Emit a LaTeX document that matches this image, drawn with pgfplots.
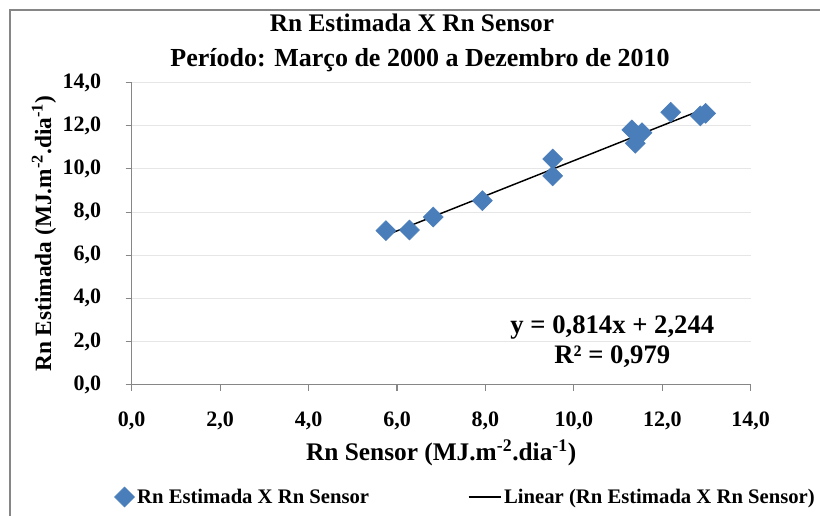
\documentclass[border=0pt]{standalone}
\usepackage{fontspec}
\setmainfont{Liberation Serif}
\usepackage{pgfplots}
\pgfplotsset{compat=1.18}
\definecolor{ptblue}{HTML}{4A7EBB}
\definecolor{axgray}{HTML}{868686}
\definecolor{gridgray}{HTML}{E6E6E6}
\begin{document}
\begin{tikzpicture}[x=1pt,y=1pt]
\useasboundingbox (0,0) rectangle (615,387);
\begin{scope}
\clip (0,0) rectangle (615,387);
\fill[white] (0,0) rectangle (615,387);
\draw[axgray, line width=1.5pt] (7.5,-20) -- (7.5,379.5) -- (640,379.5);
\end{scope}
\node[font=\fontsize{19}{21}\selectfont\bfseries] at (309,369.5) {Rn Estimada X Rn Sensor};
\node[font=\fontsize{19.5}{21}\selectfont\bfseries] at (315,342) {Período: Março de 2000 a Dezembro de 2010};
\begin{axis}[
  at={(98.8pt,98.5pt)}, anchor=south west,
  scale only axis, width=464.25pt, height=226.5pt,
  xmin=0, xmax=14, ymin=0, ymax=14,
  xtick={0,2,...,14}, ytick={0,2,...,14},
  axis x line*=bottom, axis y line*=left,
  axis line style={axgray, line width=1pt, -},
  tick style={axgray, line width=0.8pt},
  tick align=outside, major tick length=4.5pt,
  ymajorgrids, grid style={gridgray, line width=0.8pt},
  /pgf/number format/.cd, fixed, fixed zerofill, precision=1, use comma, assume math mode=true,
  /pgfplots/.cd,
  ticklabel style={font=\fontsize{16.5}{18}\selectfont\bfseries},
  xticklabel style={yshift=-12pt},
  yticklabel style={xshift=-15pt},
  xlabel={Rn Sensor (MJ.m\textsuperscript{-2}.dia\textsuperscript{-1})},
  ylabel={Rn Estimada (MJ.m\textsuperscript{-2}.dia\textsuperscript{-1})},
  xlabel style={font=\fontsize{19}{21}\selectfont\bfseries, yshift=-1pt},
  ylabel style={font=\fontsize{17.5}{20}\selectfont\bfseries, yshift=-2pt},
  legend columns=2,
  legend style={at={(0.54,-0.372)}, anchor=center, draw=none, fill=none,
    font=\fontsize{15.5}{18}\selectfont\bfseries,
    /tikz/every even column/.append style={column sep=72pt}},
  legend cell align=left,
  clip=false,
]
\addplot[only marks, mark=square*, mark size=5.3pt, mark options={fill=ptblue, draw=ptblue, rotate=45}]
coordinates {
(5.75,7.14) (6.28,7.17) (6.82,7.77) (7.93,8.53) (9.52,10.46) (9.52,9.68)
(11.31,11.81) (11.54,11.68) (11.39,11.19) (12.19,12.63) (12.86,12.46) (12.98,12.58)
};
\addlegendentry{Rn Estimada X Rn Sensor}
\addplot[black, line width=1.1pt, legend image code/.code={\draw[black, line width=1.1pt] (0cm,0cm) -- (0.85cm,0cm);}] coordinates {(5.75,6.925) (12.98,12.810)};
\addlegendentry{Linear (Rn Estimada X Rn Sensor)}
\node[font=\fontsize{20}{22}\selectfont\bfseries] at (axis cs:10.87,2.63) {y = 0,814x + 2,244};
\node[font=\fontsize{20}{22}\selectfont\bfseries] at (axis cs:10.87,1.28) {R² = 0,979};
\end{axis}
\end{tikzpicture}
\end{document}
